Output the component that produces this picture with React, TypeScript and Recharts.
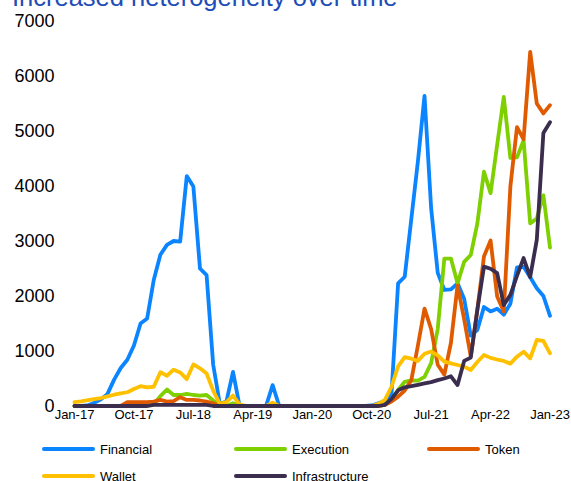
import { LineChart, Line, XAxis, YAxis } from 'recharts';

const MONTHS = ['Jan', 'Feb', 'Mar', 'Apr', 'May', 'Jun', 'Jul', 'Aug', 'Sep', 'Oct', 'Nov', 'Dec'];
const YEARS = ['17', '18', '19', '20', '21', '22', '23'];
const CATEGORIES = YEARS.flatMap((y) => MONTHS.map((m) => `${m}-${y}`)).slice(0, 73);

const Y_TICKS = [0, 1000, 2000, 3000, 4000, 5000, 6000, 7000];

const financial = [
  0, 0, 10, 60, 120, 220, 480, 690, 840, 1100,
  1500, 1590, 2290, 2750, 2930, 3000, 2990, 4180, 3990, 2500,
  2380, 750, 40, 80, 620, 0, 0, 0, 0, 0,
  380, 0, 0, 0, 0, 0, 0, 0, 0, 0,
  0, 0, 0, 0, 0, 10, 50, 90, 220, 2230,
  2350, 3400, 4450, 5640, 3600, 2420, 2110, 2120, 2230, 1950,
  1280, 1380, 1800, 1720, 1770, 1660, 1860, 2520, 2530, 2340,
  2140, 2000, 1640,
];

const execution = [
  0, 0, 0, 0, 0, 0, 0, 0, 0, 0,
  0, 0, 30, 180, 300, 200, 200, 220, 200, 190,
  200, 100, 20, 0, 50, 0, 0, 0, 0, 0,
  0, 0, 0, 0, 0, 0, 0, 0, 0, 0,
  0, 0, 0, 0, 0, 0, 0, 20, 100, 290,
  440, 465, 460, 530, 780, 1400, 2680, 2680, 2230, 2620,
  2745, 3320, 4260, 3870, 4750, 5620, 4510, 4520, 4830, 3320,
  3410, 3830, 2880,
];

const token = [
  0, 0, 0, 0, 0, 0, 0, 0, 70, 70,
  70, 70, 80, 110, 80, 90, 160, 110, 110, 100,
  80, 50, 0, 0, 0, 0, 0, 0, 0, 0,
  0, 0, 0, 0, 0, 0, 0, 0, 0, 0,
  0, 0, 0, 0, 0, 0, 0, 20, 80, 170,
  280, 470, 1100, 1770, 1400, 750, 570, 1150, 2190, 1580,
  900, 1750, 2720, 3010, 1990, 1720, 3990, 5070, 4850, 6440,
  5500, 5320, 5470,
];

const wallet = [
  70, 85, 105, 125, 145, 175, 205, 230, 250, 310,
  360, 340, 350, 615, 550, 660, 610, 490, 755, 685,
  590, 280, 40, 70, 190, 30, 0, 0, 0, 0,
  60, 0, 0, 0, 0, 0, 0, 0, 0, 0,
  0, 0, 0, 0, 0, 0, 40, 110, 350, 720,
  890, 860, 820, 950, 990, 920, 806, 776, 745, 715,
  655, 800, 927, 875, 845, 820, 770, 897, 988, 867,
  1200, 1182, 958,
];

const infrastructure = [
  0, 0, 0, 0, 0, 0, 0, 0, 0, 0,
  0, 0, 20, 20, 20, 20, 20, 20, 20, 20,
  20, 0, 0, 0, 0, 0, 0, 0, 0, 0,
  0, 0, 0, 0, 0, 0, 0, 0, 0, 0,
  0, 0, 0, 0, 0, 0, 0, 20, 130, 285,
  340, 360, 385, 410, 435, 470, 500, 540, 380, 820,
  880, 1750, 2533, 2495, 2415, 1836, 2020, 2365, 2690, 2345,
  3020, 4965, 5160,
];

const SERIES = [
  { key: 'financial', name: 'Financial', color: '#0A84FF' },
  { key: 'execution', name: 'Execution', color: '#7ED000' },
  { key: 'token', name: 'Token', color: '#E05A00' },
  { key: 'wallet', name: 'Wallet', color: '#FFC000' },
  { key: 'infrastructure', name: 'Infrastructure', color: '#3A2D4E' },
];

const data = CATEGORIES.map((label, i) => ({
  label,
  financial: financial[i],
  execution: execution[i],
  token: token[i],
  wallet: wallet[i],
  infrastructure: infrastructure[i],
}));

const FONT = '"Liberation Sans", Arial, sans-serif';

// legend slots: [x of line start, y of row]
const LEGEND_POS = [
  [42, 449],
  [234, 449],
  [427, 449],
  [42, 476],
  [234, 476],
];

export default function App() {
  return (
    <div style={{ position: 'absolute', left: 0, top: 0, width: 571, height: 481, background: '#fff', overflow: 'hidden', fontFamily: FONT }}>
      <div style={{ position: 'absolute', left: 12, top: -15, fontSize: 25.5, lineHeight: 1, color: '#1F4DB8', whiteSpace: 'nowrap' }}>
        Increased heterogeneity over time
      </div>
      <LineChart width={571} height={481} data={data} margin={{ top: 21, right: 21, bottom: 45, left: 14.5 }}>
        <XAxis
          dataKey="label"
          interval={8}
          tickLine={false}
          axisLine={false}
          tickSize={0}
          tickMargin={4}
          height={30}
          tick={{ fontSize: 13, fill: '#000', fontFamily: FONT }}
        />
        <YAxis
          domain={[0, 7000]}
          ticks={Y_TICKS}
          width={60}
          tickLine={false}
          axisLine={false}
          tickSize={0}
          tickMargin={20}
          tick={{ fontSize: 18, fill: '#000', fontFamily: FONT }}
        />
        {SERIES.map((s) => (
          <Line
            key={s.key}
            type="linear"
            dataKey={s.key}
            name={s.name}
            stroke={s.color}
            strokeWidth={3.8}
            strokeLinejoin="round"
            strokeLinecap="round"
            dot={false}
            isAnimationActive={false}
          />
        ))}
      </LineChart>
      {SERIES.map((s, i) => (
        <div key={s.key} style={{ position: 'absolute', left: LEGEND_POS[i][0], top: LEGEND_POS[i][1] - 8, height: 16, display: 'flex', alignItems: 'center' }}>
          <div style={{ width: 53, height: 4, borderRadius: 2, background: s.color }} />
          <span style={{ marginLeft: 5, fontSize: 13, color: '#000' }}>{s.name}</span>
        </div>
      ))}
    </div>
  );
}
